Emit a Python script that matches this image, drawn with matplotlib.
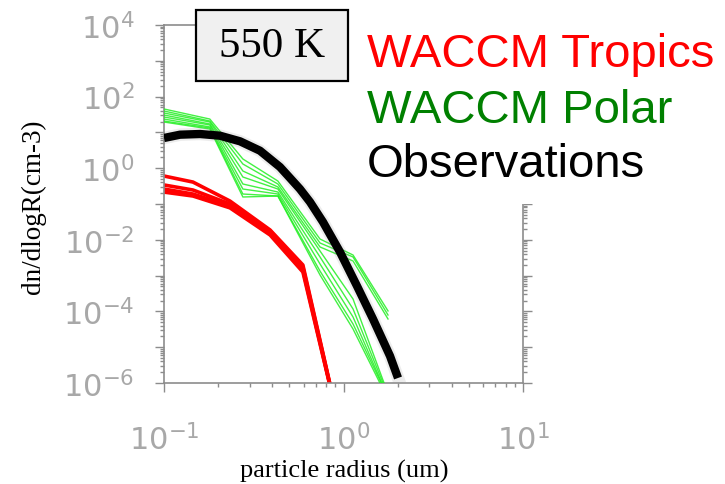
import matplotlib
matplotlib.use("Agg")
import matplotlib.pyplot as plt
from matplotlib.ticker import LogLocator, FuncFormatter, NullFormatter
from matplotlib.patches import Rectangle
import numpy as np

# observations (black curve)
obs_r = [0.1000, 0.1228, 0.1587, 0.2051, 0.2651, 0.3425, 0.4427, 0.5035, 0.5722,
         0.6508, 0.7687, 0.9561, 1.189, 1.460, 1.816, 2.012]
obs_n = [6.98, 8.63, 9.02, 8.09, 5.64, 3.08, 1.08, 0.532, 0.262,
         0.1138, 0.0314, 4.56e-3, 5.12e-4, 6.14e-5, 5.68e-6, 1.38e-6]

# WACCM tropics (red bundle)
trop_r = [0.100, 0.145, 0.233, 0.390, 0.594, 0.930]
trop_1 = [0.605, 0.410, 0.121, 0.0188, 1.98e-3, 1e-7]
trop_2 = [0.340, 0.246, 0.100, 0.0176, 1.74e-3, 1e-7]
trop_3 = [0.262, 0.190, 0.088, 0.0155, 1.45e-3, 1e-7]
trop_4 = [0.215, 0.167, 0.078, 0.0136, 1.26e-3, 1e-7]

# WACCM polar (green bundle)
pol_r = [0.100, 0.180, 0.275, 0.431, 0.740, 1.13, 1.77]
pol_1 = [45.1, 23.6, 1.81, 0.438, 0.0105, 3.76e-3, 1.03e-4]
pol_2 = [39.6, 20.8, 1.31, 0.362, 8.14e-3, 3.31e-3, 7.93e-5]
pol_3 = [34.8, 19.5, 0.835, 0.299, 6.30e-3, 2.56e-3, 6.14e-5]
pol_4 = [30.6, 17.2, 0.568, 0.262, 4.87e-3, 2.22e-4, 5e-7]
pol_5 = [26.9, 16.1, 0.362, 0.216, 3.31e-3, 1.17e-4, 4.5e-7]
pol_6 = [23.6, 14.2, 0.262, 0.190, 2.11e-3, 6.98e-5, 4e-7]
pol_7 = [20.8, 13.3, 0.190, 0.167, 1.34e-3, 4.45e-5, 4e-7]
pol_8 = [19.5, 12.4, 0.157, 0.167, 1.04e-3, 3.22e-5, 3.5e-7]

W, H = 725, 485
fig = plt.figure(figsize=(W / 100, H / 100), dpi=100)
ax = fig.add_axes([164 / W, 1 - 384 / H, 359 / W, 358 / H])

for ys in [trop_1, trop_2, trop_3, trop_4]:
    ax.plot(trop_r, ys, color="#ff0000", lw=2.6, zorder=2)

for ys in [pol_1, pol_2, pol_3, pol_4, pol_5, pol_6, pol_7, pol_8]:
    ax.plot(pol_r, ys, color="#22ee22", lw=1.0, alpha=0.85, zorder=3)

ax.plot(obs_r, obs_n, color="#999999", lw=9, alpha=0.18, zorder=4)
ax.plot(obs_r, obs_n, color="black", lw=6, solid_capstyle="butt", zorder=5)

ax.set_xscale("log")
ax.set_yscale("log")
ax.set_xlim(0.1, 10)
ax.set_ylim(1e-6, 1e4)

grey = "#8c8c8c"
for s in ax.spines.values():
    s.set_color(grey)
    s.set_linewidth(1.2)

ax.xaxis.set_major_locator(LogLocator(base=10, numticks=10))
ax.xaxis.set_minor_locator(LogLocator(base=10, subs=np.arange(2, 10), numticks=10))
ax.yaxis.set_major_locator(LogLocator(base=10, numticks=20))
ax.yaxis.set_minor_locator(LogLocator(base=10, subs=np.arange(2, 10), numticks=20))


def even_only(v, pos):
    e = int(round(np.log10(v)))
    if e % 2:
        return ""
    return r"$\mathdefault{10^{%d}}$" % e


ax.yaxis.set_major_formatter(FuncFormatter(even_only))
ax.xaxis.set_major_formatter(FuncFormatter(lambda v, p: r"$\mathdefault{10^{%d}}$" % int(round(np.log10(v)))))
ax.xaxis.set_minor_formatter(NullFormatter())
ax.yaxis.set_minor_formatter(NullFormatter())

ax.tick_params(which="both", direction="out", color=grey, width=1.0,
               left=True, right=True, bottom=True, top=False)
ax.tick_params(which="major", length=6.5)
ax.tick_params(which="minor", length=3)
ax.tick_params(axis="x", which="major", pad=22, labelsize=22, labelcolor="#a8a8a8")
ax.tick_params(axis="y", which="major", pad=15, labelsize=22, labelcolor="#a8a8a8")

fig.text(344 / W, 1 - 471 / H, "particle radius (um)", family="Liberation Serif",
         fontsize=19, ha="center", va="center")
fig.text(33 / W, 1 - 207 / H, "dn/dlogR(cm-3)", family="Liberation Serif",
         fontsize=19.5, ha="center", va="center", rotation=90)

# white cover over the upper right part of the frame, behind the legend texts
fig.add_artist(Rectangle((348 / W, 1 - 205 / H), 1 - 348 / W, 205 / H,
                         transform=fig.transFigure, facecolor="white",
                         edgecolor="none", zorder=6))

# label box
fig.add_artist(Rectangle((196 / W, 1 - 82 / H), 152 / W, 71 / H,
                         transform=fig.transFigure, facecolor="#f0f0f0",
                         edgecolor="black", lw=1.6, zorder=7))
fig.text(272 / W, 1 - 47 / H, "550 K", family="Liberation Serif", fontsize=31,
         ha="center", va="center", zorder=8)

labels = ["WACCM Tropics", "WACCM Polar", "Observations"]
colors = ["#ff0000", "#008000", "black"]
baselines = [67, 123, 177]
for txt, c, b in zip(labels, colors, baselines):
    fig.text(367 / W, 1 - b / H, txt, family="Liberation Sans", fontsize=34,
             color=c, ha="left", va="baseline", zorder=8)

fig.savefig("out.png", dpi=100)
